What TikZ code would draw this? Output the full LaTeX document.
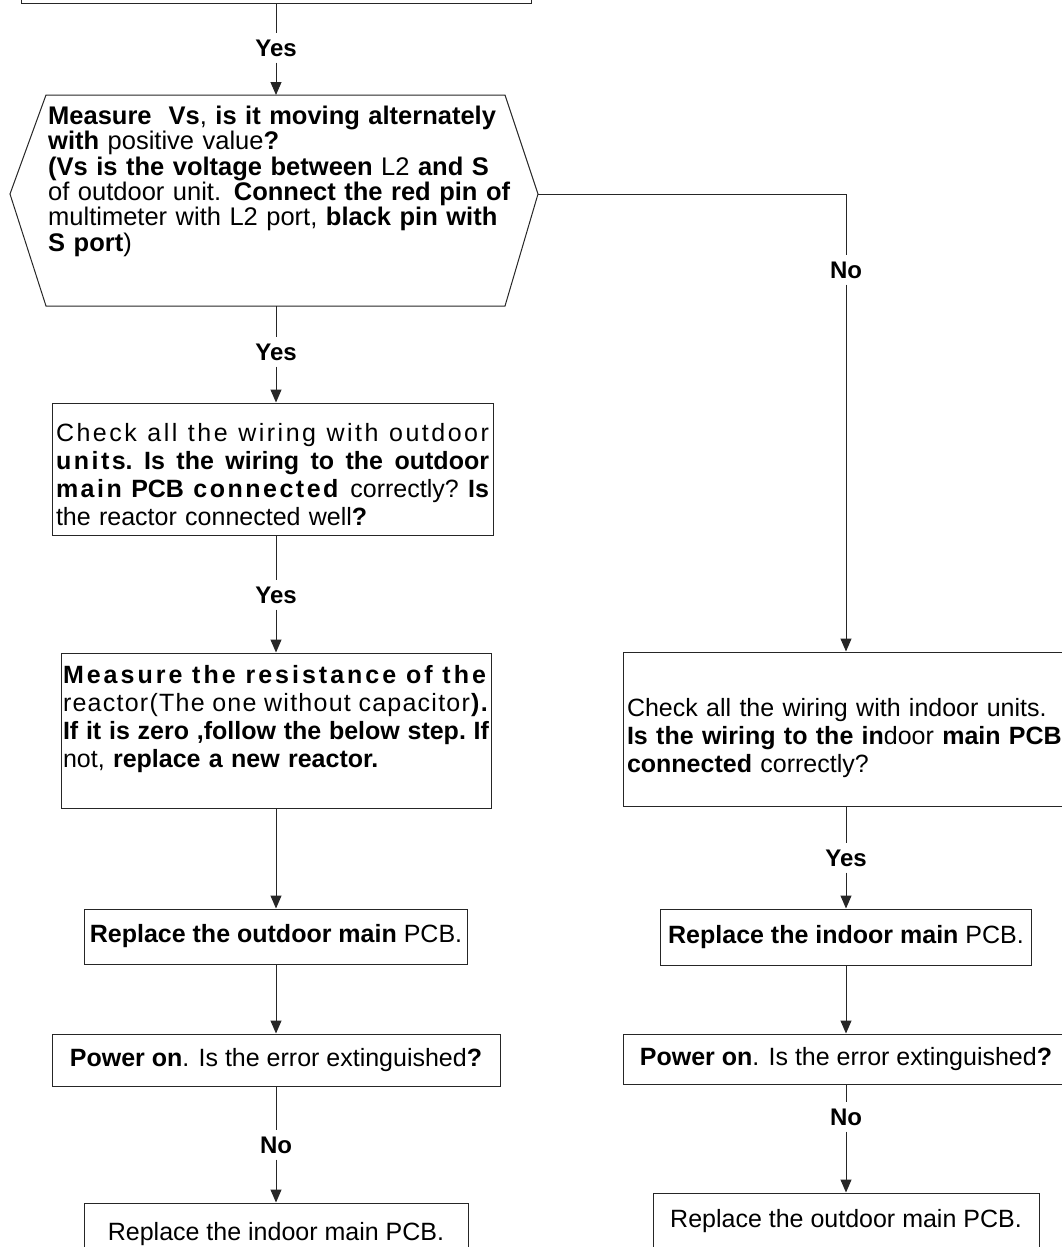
\documentclass[tikz,border=0pt]{standalone}
\usepackage{fontspec}
\setmainfont{Liberation Sans}
\usetikzlibrary{arrows.meta,positioning}

% letter-spaced and justified pieces of text
\newcommand{\spc}[2][10]{{\addfontfeature{LetterSpace=#1}#2}}
\newcommand{\jline}[2][433pt]{\makebox[#1][s]{\frenchspacing\spaceskip=7pt plus 1fil minus 2.5pt\relax #2}}

\tikzset{
  box/.style={draw=black!85, line width=1pt, inner sep=3pt, font=\fontsize{25}{28}\selectfont},
  answer/.style={font=\bfseries\fontsize{24}{24}\selectfont, inner xsep=2pt, inner ysep=6pt},
  link/.style={draw=black!85, line width=1pt},
  flow/.style={link, -{Triangle[width=11pt,length=13pt]}}
}

\begin{document}
\begin{tikzpicture}[x=1pt, y=-1pt]
  \useasboundingbox (0,0) rectangle (1061,1247);
  % previous step (cut off at the top)
  \node[box, minimum width=510, minimum height=60] (prev) at (276,-26) {};
  \node[answer] (yesA) at (276,48) {Yes};
  % decision: measure Vs
  \draw[link] (46,95) coordinate (hexNW) -- (505,95) coordinate (hexNE)
    -- (538,194) coordinate (hexE) -- (505,306) coordinate (hexSE)
    -- (46,306) coordinate (hexSW) -- (10,194) coordinate (hexW) -- cycle;
  \coordinate (hexN) at (276,95);
  \coordinate (hexS) at (276,306);
  \node[anchor=north west, text width=462pt, align=left, inner sep=0pt,
        font=\fontsize{25.5}{25.3}\selectfont] (measVs) at (48,106)
    {\textbf{Measure~~Vs}, \textbf{is it moving alternately}\\
     \textbf{with} positive value\textbf{?}\\
     \textbf{(Vs is the voltage between} L2 \textbf{and S}\\
     of outdoor unit. \textbf{Connect the red pin of}\\
     multimeter with L2 port, \textbf{black pin with}\\
     \textbf{S port})};
  \node[answer] (yesB) at (276,352) {Yes};
  % left branch
  \node[box, minimum width=441, minimum height=132, text width=433pt, align=left] (chkOut) at (272.5,469)
    {\rule{0pt}{29pt}\jline{\spc{Check all the wiring with outdoor}}\\
     \jline{\textbf{\spc{units}.} \textbf{Is the wiring to the outdoor}}\\
     \jline{\textbf{\spc{main} PCB \spc{connected}} correctly? \textbf{Is}}\\
     the reactor connected well\textbf{?}};
  \node[answer] (yesC) at (276,595) {Yes};
  \node[box, minimum width=430, minimum height=155, inner xsep=2pt, text width=426pt, align=left] (chkReac) at (276,730.5)
    {\jline[426pt]{\textbf{\spc[12]{Measure the resistance of the}}}\\
     \jline[426pt]{\spc[5]{reactor(The one without capacitor\textbf{).}}}\\
     \jline[426pt]{\textbf{If it is zero ,follow the below step.} \textbf{If}}\\
     not, \textbf{replace a new reactor.}\\ \mbox{}};
  \node[box, minimum width=383, minimum height=55] (replOut) at (276,936.5)
    {\textbf{Replace the outdoor main} PCB.};
  \node[box, minimum width=448, minimum height=52] (powerL) at (276,1060)
    {\textbf{Power on}. Is the error extinguished\textbf{?}};
  \node[answer] (noA) at (276,1145) {No};
  \node[box, minimum width=384, minimum height=62] (replInL) at (276,1234)
    {Replace the indoor main PCB.};
  % right branch
  \node[answer] (noB) at (846,270) {No};
  \node[box, minimum width=446, minimum height=154, text width=438pt, align=left] (chkIn) at (846,729)
    {\rule{0pt}{37pt}Check all the wiring with indoor units.\\
     \textbf{Is the wiring to the in}door \textbf{main PCB}\\
     \textbf{connected} correctly?};
  \node[answer] (yesD) at (846,858) {Yes};
  \node[box, minimum width=371, minimum height=56] (replInR) at (846,937)
    {\textbf{Replace the indoor main} PCB.};
  \node[box, minimum width=446, minimum height=50] (powerR) at (846,1059)
    {\textbf{Power on}. Is the error extinguished\textbf{?}};
  \node[answer] (noC) at (846,1117) {No};
  \node[box, minimum width=386, minimum height=56] (replOutR) at (846,1221)
    {Replace the outdoor main PCB.};
  % connectors
  \draw[link] (prev) -- (yesA);
  \draw[flow] (yesA) -- (hexN);
  \draw[link] (hexS) -- (yesB);
  \draw[flow] (yesB) -- (yesB |- chkOut.north);
  \draw[link] (chkOut.south -| yesC) -- (yesC);
  \draw[flow] (yesC) -- (chkReac);
  \draw[flow] (chkReac) -- (replOut);
  \draw[flow] (replOut) -- (powerL);
  \draw[link] (powerL) -- (noA);
  \draw[flow] (noA) -- (replInL);
  \draw[link] (hexE) -| (noB);
  \draw[flow] (noB) -- (chkIn);
  \draw[link] (chkIn) -- (yesD);
  \draw[flow] (yesD) -- (replInR);
  \draw[flow] (replInR) -- (powerR);
  \draw[link] (powerR) -- (noC);
  \draw[flow] (noC) -- (replOutR);
\end{tikzpicture}
\end{document}
